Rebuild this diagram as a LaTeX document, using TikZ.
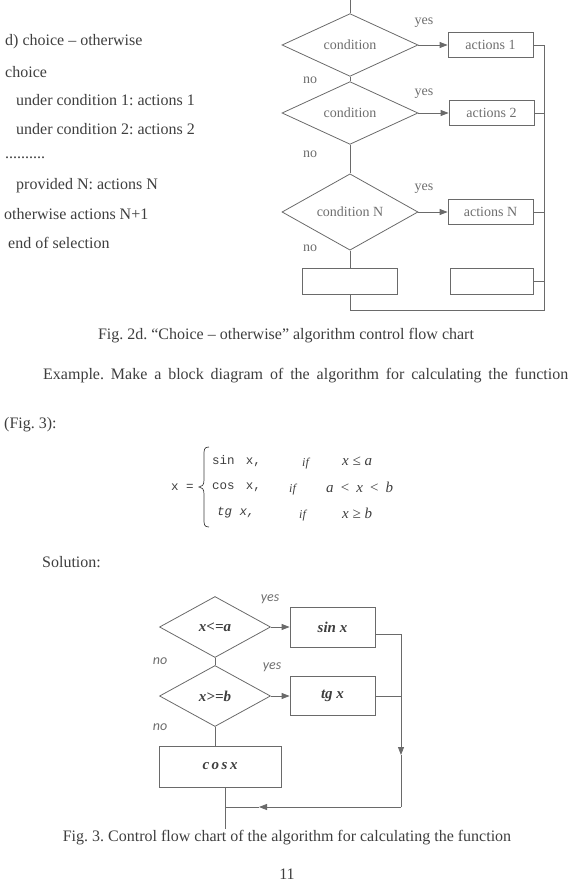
\documentclass[tikz,border=0pt]{standalone}
\usepackage{fontspec}
\setmainfont{Liberation Serif}
\newfontfamily\capfont{Carlito}
\newfontfamily\monofont{Liberation Mono}
\usetikzlibrary{shapes.geometric,arrows.meta,positioning}
\definecolor{inkgray}{HTML}{3E3E3E}
\definecolor{linegray}{HTML}{6A6A6A}
\definecolor{softgray}{HTML}{6E6E6E}
\newcommand{\bodysize}{\fontsize{16}{19}\selectfont}
\newcommand{\chartsize}{\fontsize{14}{16}\selectfont}
\frenchspacing

\begin{document}
\begin{tikzpicture}[x=1pt, y=-1pt, >={Triangle[length=8pt,width=6pt]},
  txt/.style={inner sep=0pt, anchor=west, text=inkgray, font=\bodysize},
  cond/.style={diamond, draw=linegray, line width=0.8pt, inner sep=0pt,
    minimum width=136pt, minimum height=54pt, text=softgray, font=\chartsize},
  act/.style={rectangle, draw=linegray, line width=0.8pt, inner sep=0pt,
    minimum width=85pt, minimum height=25pt, text=softgray, font=\chartsize},
  test/.style={diamond, draw=linegray, line width=0.8pt, inner sep=0pt,
    minimum width=111pt, minimum height=61pt, text=inkgray,
    font=\fontsize{15}{17}\selectfont\bfseries\itshape},
  calc/.style={rectangle, draw=linegray, line width=0.8pt, inner sep=0pt,
    minimum width=85pt, minimum height=40pt, text=inkgray,
    font=\fontsize{15}{17}\selectfont\bfseries\itshape},
  link/.style={draw=linegray, line width=0.8pt},
  lbl/.style={inner sep=0pt, text=softgray, font=\chartsize},
  ylbl/.style={inner sep=0pt, text=softgray, font=\fontsize{14}{16}\capfont\itshape},
  form/.style={inner sep=0pt, anchor=west, text=inkgray, font=\fontsize{12.5}{14}\monofont},
  iff/.style={inner sep=0pt, anchor=west, text=inkgray, font=\fontsize{12}{14}\selectfont\itshape},
  rng/.style={inner sep=0pt, anchor=west, text=inkgray, font=\fontsize{15}{17}\selectfont\itshape}]
  \useasboundingbox (0,0) rectangle (574,893);

  % Pseudocode on the left
  \node[txt] (p1) at (5,42) {d) choice – otherwise};
  \node[txt] (p2) at (5,72) {choice};
  \node[txt] (p3) at (16,100) {under condition 1: actions 1};
  \node[txt] (p4) at (16,129) {under condition 2: actions 2};
  \node[txt] (p5) at (5,158) {..........};
  \node[txt] (p6) at (16,186) {provided N: actions N};
  \node[txt] (p7) at (4,214) {otherwise actions N+1};
  \node[txt] (p8) at (8,243) {end of selection};

  % Choice - otherwise chart
  \coordinate (top) at (350,0);
  \node[cond] (c1) at (350,45) {condition};
  \node[cond] (c2) at (350,113) {condition};
  \node[cond] (cN) at (350,212) {condition N};
  \node[act] (a1) at (490.5,45) {actions 1};
  \node[act] (a2) at (491.5,113) {actions 2};
  \node[act] (aN) at (490.5,212) {actions N};
  \node[act, minimum width=95pt, minimum height=26pt] (e1) at (350,281) {};
  \node[act, minimum width=83pt, minimum height=26pt] (e2) at (491.5,281) {};
  \coordinate (rt) at (544,45);
  \coordinate (rb) at (544,310);
  \coordinate (lb) at (350,310);

  \draw[link] (top) -- (c1);
  \draw[link] (c1) -- (c2);
  \draw[link] (c2) -- (cN);
  \draw[link] (cN) -- (e1);
  \draw[link,->] (c1.east) -- (a1.west);
  \draw[link,->] (c2.east) -- (a2.west);
  \draw[link,->] (cN.east) -- (aN.west);
  \draw[link] (e1) -- (lb) -- (rb) -- (rt) -- (a1.east);
  \draw[link] (a2.east) -- (a2.east -| rt);
  \draw[link] (aN.east) -- (aN.east -| rt);
  \draw[link] (e2.east) -- (e2.east -| rt);

  \node[lbl] (y1) at (424,23) {yes};
  \node[lbl] (y2) at (424,94) {yes};
  \node[lbl] (y3) at (424,189) {yes};
  \node[lbl] (n1) at (310,80) {no};
  \node[lbl] (n2) at (310,154) {no};
  \node[lbl] (n3) at (310,248) {no};

  \node[txt, anchor=center] (cap1) at (286,336)
    {Fig. 2d. “Choice – otherwise” algorithm control flow chart};

  % Task text and formula
  \node[txt] (ex) at (43,376)
    {\makebox[525pt][s]{Example. Make a block diagram of the algorithm for calculating the function}};
  \node[txt] (ex2) at (4,425) {(Fig. 3):};

  \node[form] (fx) at (171,487) {x =};
  \draw[draw=inkgray, line width=0.7pt] (209,447)
    .. controls (204,447) and (204,450) .. (204,455) -- (204,480)
    .. controls (204,485) and (202,487) .. (199,487)
    .. controls (202,487) and (204,489) .. (204,494) -- (204,519)
    .. controls (204,524) and (204,527) .. (209,527);
  \node[form] (f1) at (212,461) {sin\hspace{0.9em}x,};
  \node[form] (f2) at (212,487) {cos\hspace{0.9em}x,};
  \node[form, font=\fontsize{12.5}{14}\monofont\itshape] (f3) at (217,513) {tg\hspace{0.6em}x,};
  \node[iff] (i1) at (302,464) {if};
  \node[iff] (i2) at (289,490) {if};
  \node[iff] (i3) at (299,516) {if};
  \node[rng] (k1) at (342,461) {x ≤ a};
  \node[rng] (k2) at (326,487) {a \,<\, x \,<\, b};
  \node[rng] (k3) at (342,513) {x ≥ b};

  \node[txt] (sol) at (42,562) {Solution:};

  % Function chart
  \node[test] (q1) at (215,627) {x<=a};
  \node[test] (q2) at (215,696) {x>=b};
  \node[calc] (sinx) at (332.5,627) {sin x};
  \node[calc, minimum height=39pt] (tgx) at (332.5,696) {tg x};
  \node[calc, minimum width=122pt, minimum height=41pt] (cosx) at (220,766.5) {c\,o\,s\,x};
  \coordinate (s1) at (401,634);
  \coordinate (s2) at (401,696);
  \coordinate (sd) at (401,755);
  \coordinate (sb) at (401,807);
  \coordinate (sm) at (259,807);
  \coordinate (cb) at (225,807);
  \coordinate (cend) at (225,829);

  \draw[link,->] (q1.east) -- (sinx.west);
  \draw[link,->] (q2.east) -- (tgx.west);
  \draw[link] (q1) -- (q2);
  \draw[link] (q2.south) -- (q2.south |- cosx.north);
  \draw[link] ([yshift=-7pt]sinx.east) -- (s1) -- (s2);
  \draw[link] (tgx.east) -- (s2);
  \draw[link,->] (s2) -- (sd);
  \draw[link] (sd) -- (sb);
  \draw[link,->] (sb) -- (sm);
  \draw[link] (sm) -- (cb);
  \draw[link] (cosx.south -| cb) -- (cend);

  \node[ylbl] (y4) at (270,599) {yes};
  \node[ylbl] (y5) at (272,667) {yes};
  \node[ylbl] (n4) at (160,661) {no};
  \node[ylbl] (n5) at (160,727) {no};

  \node[txt, anchor=center] (cap2) at (287,838)
    {Fig. 3. Control flow chart of the algorithm for calculating the function};
  \node[txt, anchor=center] (pg) at (287,874) {11};
\end{tikzpicture}
\end{document}
